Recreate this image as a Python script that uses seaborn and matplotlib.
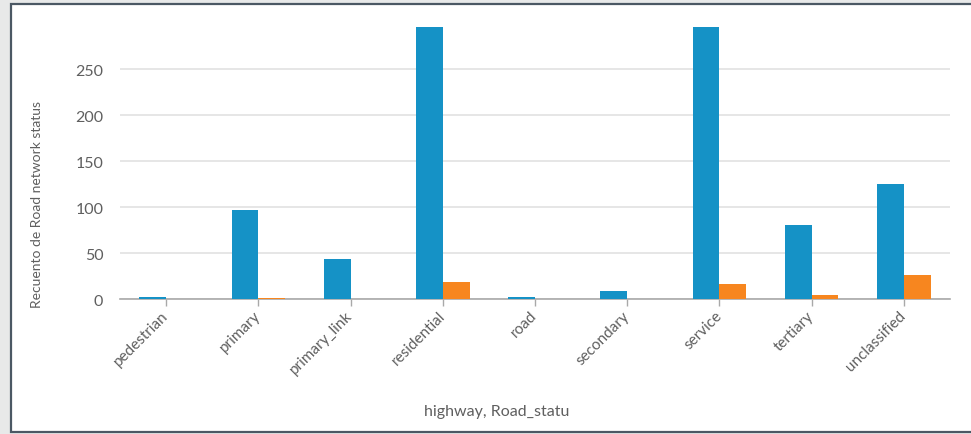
import matplotlib
matplotlib.use("Agg")
import matplotlib.pyplot as plt
from matplotlib.patches import Rectangle
import pandas as pd
import seaborn as sns

# Values
highways = ['pedestrian', 'primary', 'primary_link', 'residential', 'road',
            'secondary', 'service', 'tertiary', 'unclassified']
status_a = [2, 97, 43, 296, 2, 9, 296, 80, 125]
status_b = [0, 1.5, 0, 18, 0, 0, 16, 4, 26]
status_names = ['A', 'B']
colors = ['#1592c6', '#f7861f']

df = pd.DataFrame({
    'highway': highways * 2,
    'Road_statu': [status_names[0]] * len(highways) + [status_names[1]] * len(highways),
    'count': status_a + status_b,
})

sns.set_style('white')
plt.rcParams['font.family'] = ['Lato', 'DejaVu Sans']

W, H = 971, 435
fig = plt.figure(figsize=(W / 100, H / 100), dpi=100, facecolor='#e8e9e9')

# white panel with a border, like the dashboard frame
panel = Rectangle((11 / W, 1 - 433 / H), (W + 20 - 11) / W, (433 - 5) / H,
                  transform=fig.transFigure, facecolor='white',
                  edgecolor='#4b5864', linewidth=1.6, zorder=-10)
fig.patches.append(panel)

ax = fig.add_axes([120 / W, 1 - 300 / H, (950 - 120) / W, (300 - 28) / H])
ax.set_facecolor('none')

sns.barplot(data=df, x='highway', y='count', hue='Road_statu',
            order=highways, hue_order=status_names, palette=colors,
            width=0.58, gap=0, saturation=1, linewidth=0, legend=False,
            ax=ax, zorder=3)

ax.set_ylim(0, 296)
ax.set_yticks([0, 50, 100, 150, 200, 250])
ax.yaxis.grid(True, color='#e1e1e1', linewidth=1.2, zorder=0)
ax.set_axisbelow(True)

for s in ['left', 'right', 'top']:
    ax.spines[s].set_visible(False)
ax.spines['bottom'].set_color('#a9a9a9')
ax.spines['bottom'].set_linewidth(1.2)

ax.tick_params(axis='y', length=0, pad=12, labelsize=11.5, labelcolor='#5f5f5f')
ax.tick_params(axis='x', length=5, width=1, color='#a9a9a9', pad=5,
               labelsize=11, labelcolor='#5f5f5f', bottom=True)
for lab in ax.get_xticklabels():
    lab.set_rotation(45)
    lab.set_ha('right')
    lab.set_va('center')
    lab.set_rotation_mode('anchor')

ax.set_xlabel('')
ax.set_ylabel('')
fig.text(37 / W, 1 - 204 / H, 'Recuento de Road network status', rotation=90,
         ha='center', va='center', fontsize=10, color='#5f5f5f')
fig.text(497 / W, 1 - 412 / H, 'highway, Road_statu', ha='center', va='center',
         fontsize=11.5, color='#5f5f5f')

fig.savefig('out.png', dpi=100, facecolor=fig.get_facecolor())
